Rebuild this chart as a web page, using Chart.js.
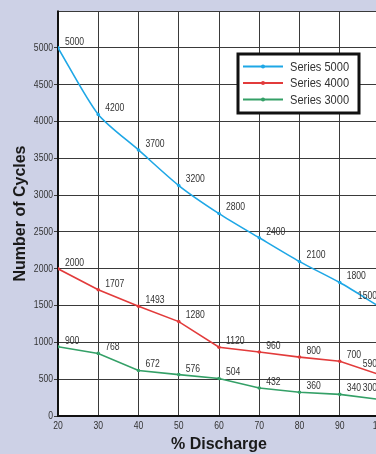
<!DOCTYPE html>
<html>
<head>
<meta charset="utf-8">
<script src="https://cdn.jsdelivr.net/npm/chart.js@4/dist/chart.umd.min.js"></script>
<style>
  html, body { margin: 0; padding: 0; background: #cdd1e6; overflow: hidden; width: 376px; height: 454px; }
  #wrap { position: absolute; left: 0; top: 0; width: 390px; height: 454px; }
</style>
</head>
<body>
<div id="wrap"><canvas id="c" width="390" height="454"></canvas></div>
<script>
// ---- data ----
const categories = [20, 30, 40, 50, 60, 70, 80, 90, 100];
const series5000 = [5000, 4095, 3613, 3130, 2749, 2420, 2097, 1812, 1480];
const series4000 = [2000, 1714, 1490, 1282, 934, 870, 800, 744, 560];
const series3000 = [941, 850, 618, 562, 510, 381, 322, 294, 225];
const labels5000 = ['5000', '4200', '3700', '3200', '2800', '2400', '2100', '1800', '1500'];
const labels4000 = ['2000', '1707', '1493', '1280', '1120', '960', '800', '700', '590'];
const labels3000 = ['900', '768', '672', '576', '504', '432', '360', '340', '300'];
const seriesNames = ['Series 5000', 'Series 4000', 'Series 3000'];
const yTickValues = [0, 500, 1000, 1500, 2000, 2500, 3000, 3500, 4000, 4500, 5000];
const xTickValues = [20, 30, 40, 50, 60, 70, 80, 90, 100];
const xTitle = '% Discharge';
const yTitle = 'Number of Cycles';

const SANS = "'Liberation Sans', Arial, sans-serif";
const NARROW_SCALE = 0.82;
const TEXT = '#333333';
const PAGE_BG = '#cdd1e6';
const colors = ['#1ea7e6', '#e23b3b', '#34a067'];

function pts(vals) { return categories.map((x, i) => ({ x: x, y: vals[i] })); }
const valueLabels = [labels5000, labels4000, labels3000];

function narrowText(ctx, text, x, y, align) {
  ctx.save();
  ctx.translate(x, y);
  ctx.scale(NARROW_SCALE, 1);
  ctx.textAlign = align;
  ctx.fillText(text, 0, 0);
  ctx.restore();
}

const bgPlugin = {
  id: 'plotBg',
  beforeDraw(chart) {
    const { ctx, chartArea: a } = chart;
    ctx.save();
    ctx.fillStyle = '#ffffff';
    ctx.fillRect(a.left, a.top, a.right - a.left, a.bottom - a.top);
    ctx.restore();
  },
  afterDraw(chart) {
    const { ctx, chartArea: a } = chart;
    ctx.save();
    ctx.fillStyle = PAGE_BG;
    ctx.fillRect(0, 0, chart.width, a.top - 0.5);
    ctx.restore();
  }
};

const tickLabelPlugin = {
  id: 'narrowTicks',
  afterDraw(chart) {
    const ctx = chart.ctx;
    const xs = chart.scales.x, ys = chart.scales.y;
    ctx.save();
    ctx.font = '10.5px ' + SANS;
    ctx.fillStyle = TEXT;
    ctx.textBaseline = 'middle';
    yTickValues.forEach(v => {
      narrowText(ctx, String(v), ys.right - 5, ys.getPixelForValue(v), 'right');
    });
    xTickValues.forEach(v => {
      narrowText(ctx, String(v), xs.getPixelForValue(v), xs.top + 10, 'center');
    });
    ctx.restore();
  }
};

const labelPlugin = {
  id: 'valueLabels',
  afterDatasetsDraw(chart) {
    const ctx = chart.ctx;
    ctx.save();
    ctx.font = '10.5px ' + SANS;
    ctx.fillStyle = TEXT;
    ctx.textBaseline = 'middle';
    chart.data.datasets.forEach((ds, di) => {
      const meta = chart.getDatasetMeta(di);
      meta.data.forEach((el, i) => {
        const last = i === meta.data.length - 1;
        if (last) {
          narrowText(ctx, valueLabels[di][i], el.x - 3, el.y - 11, 'right');
        } else {
          narrowText(ctx, valueLabels[di][i], el.x + 7, el.y - 6, 'left');
        }
      });
    });
    ctx.restore();
  }
};

const legendPlugin = {
  id: 'boxLegend',
  afterDraw(chart) {
    const ctx = chart.ctx;
    const bx = 238, by = 54, bw = 121, bh = 59;
    ctx.save();
    ctx.fillStyle = '#ffffff';
    ctx.fillRect(bx, by, bw, bh);
    ctx.strokeStyle = '#111111';
    ctx.lineWidth = 3;
    ctx.strokeRect(bx, by, bw, bh);
    ctx.font = '13.5px ' + SANS;
    ctx.textBaseline = 'middle';
    seriesNames.forEach((name, i) => {
      const y = by + 12.5 + i * 16.5;
      ctx.strokeStyle = colors[i];
      ctx.lineWidth = 2;
      ctx.beginPath();
      ctx.moveTo(bx + 5, y);
      ctx.lineTo(bx + 45, y);
      ctx.stroke();
      ctx.fillStyle = colors[i];
      ctx.beginPath();
      ctx.arc(bx + 25, y, 2, 0, Math.PI * 2);
      ctx.fill();
      ctx.fillStyle = TEXT;
      narrowText(ctx, name, bx + 52, y + 0.5, 'left');
    });
    ctx.restore();
  }
};

const datasetsSrc = [series5000, series4000, series3000];
new Chart(document.getElementById('c'), {
  type: 'line',
  data: {
    datasets: datasetsSrc.map((vals, i) => ({
      label: seriesNames[i],
      data: pts(vals),
      borderColor: colors[i],
      backgroundColor: colors[i],
      borderWidth: 1.6,
      pointRadius: 1.8,
      pointBorderWidth: 0,
      tension: i === 0 ? 0.25 : 0,
      fill: false
    }))
  },
  options: {
    responsive: false,
    animation: false,
    devicePixelRatio: 1,
    layout: { padding: { top: 11, right: 10, left: 0, bottom: 0 } },
    plugins: { legend: { display: false }, tooltip: { enabled: false } },
    scales: {
      x: {
        type: 'linear',
        min: 20, max: 100,
        afterBuildTicks(scale) { scale.ticks = xTickValues.map(v => ({ value: v })); },
        afterFit(scale) { scale.height = 38; },
        grid: { color: '#3a3a3a', lineWidth: 1, drawTicks: false },
        border: { color: '#111111', width: 2 },
        ticks: { display: false },
        title: { display: true, text: xTitle, color: '#1a1a1a', font: { family: SANS, size: 16, weight: 'bold' }, padding: { top: 0, bottom: 0 } }
      },
      y: {
        type: 'linear',
        min: 0, max: 5500,
        afterBuildTicks(scale) {
          scale.ticks = yTickValues.concat([5500]).map(v => ({ value: v }));
        },
        afterFit(scale) { scale.width = 58; },
        grid: {
          color: '#3a3a3a', lineWidth: 1, tickLength: 4,
          tickColor: (c) => (c.tick && c.tick.value === 5500 ? 'rgba(0,0,0,0)' : '#3a3a3a')
        },
        border: { color: '#111111', width: 2 },
        ticks: { display: false },
        title: { display: true, text: yTitle, color: '#1a1a1a', font: { family: SANS, size: 16, weight: 'bold' }, padding: { top: 11, bottom: 0 } }
      }
    }
  },
  plugins: [bgPlugin, labelPlugin, tickLabelPlugin, legendPlugin]
});
</script>
</body>
</html>
